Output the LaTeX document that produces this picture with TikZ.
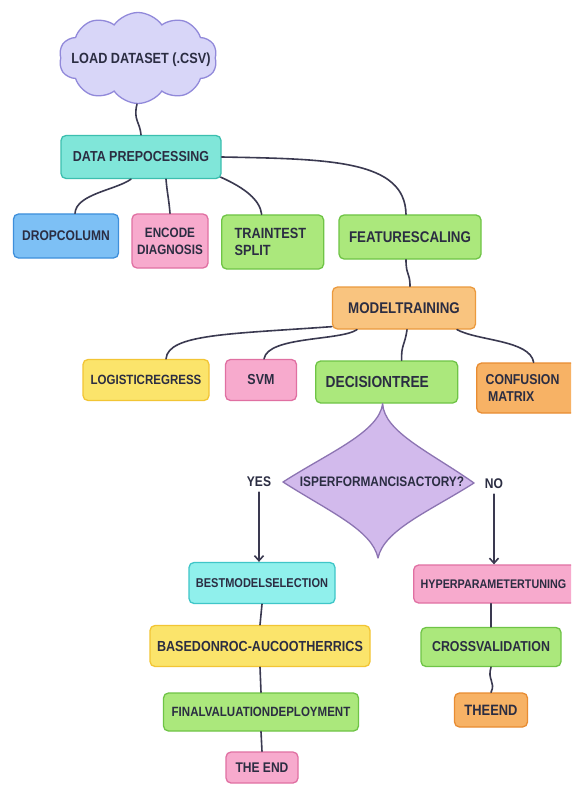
\documentclass[tikz,border=0pt]{standalone}
\usepackage{fontspec}
\newfontfamily\lab{Liberation Sans}[FakeStretch=0.86]
\usetikzlibrary{shapes.symbols,arrows.meta}
\definecolor{txt}{HTML}{2B2D42}
\definecolor{ln}{HTML}{3A3950}
\definecolor{tealF}{HTML}{80E6D9}\definecolor{tealD}{HTML}{3CBFAF}
\definecolor{blueF}{HTML}{7DC0F5}\definecolor{blueD}{HTML}{3E8FDB}
\definecolor{pinkF}{HTML}{F7AACD}\definecolor{pinkD}{HTML}{E070A2}
\definecolor{greenF}{HTML}{ABE87C}\definecolor{greenD}{HTML}{6FC446}
\definecolor{orF}{HTML}{F9C47F}\definecolor{orD}{HTML}{EB9A3E}
\definecolor{or2F}{HTML}{F7B265}\definecolor{or2D}{HTML}{E88C32}
\definecolor{yelF}{HTML}{FBE46B}\definecolor{yelD}{HTML}{F2C534}
\definecolor{cyanF}{HTML}{90F0EC}\definecolor{cyanD}{HTML}{3FC6C8}
\definecolor{lavF}{HTML}{D8D6F8}\definecolor{lavD}{HTML}{9189DA}
\definecolor{purF}{HTML}{D2BAEC}\definecolor{purD}{HTML}{8C74B2}
\tikzset{
  fsz/.style={font=\lab\bfseries\fontsize{#1}{17}\selectfont},
  box/.style={draw, rounded corners=5pt, line width=1.3pt, text=txt, inner sep=0pt, align=center, fsz=14.5},
  teal/.style={box, fill=tealF, draw=tealD},
  blue/.style={box, fill=blueF, draw=blueD},
  pink/.style={box, fill=pinkF, draw=pinkD},
  green/.style={box, fill=greenF, draw=greenD},
  orange/.style={box, fill=orF, draw=orD},
  orangeb/.style={box, fill=or2F, draw=or2D},
  yellow/.style={box, fill=yelF, draw=yelD},
  cyanbox/.style={box, fill=cyanF, draw=cyanD},
  conn/.style={draw=ln, line width=1.6pt, line cap=round},
  arr/.style={conn, -{Straight Barb[length=5pt,width=9pt,line width=1.6pt]}},
  lbl/.style={text=txt, fsz=14, inner sep=0pt}
}
\begin{document}
\begin{tikzpicture}[x=1pt,y=-1pt]
\clip (0,0) rectangle (571,786);
\fill[white] (0,0) rectangle (571,786);

% nodes
\node[cloud, cloud puffs=10, cloud puff arc=110, cloud ignores aspect, draw=lavD, fill=lavF, line width=1.3pt,
      minimum width=158pt, minimum height=91pt, inner sep=0pt] (cloud) at (138,58) {};
\node[text=txt, fsz=14.75, inner sep=0pt] (cloudtxt) at (141,60) {LOAD DATASET (.CSV)};
\node[teal, minimum width=160pt, minimum height=43pt] (dp) at (141,157) {DATA PREPOCESSING};
\node[blue, minimum width=105pt, minimum height=44pt, fsz=14] (drop) at (66,236) {DROPCOLUMN};
\node[pink, minimum width=76pt, minimum height=54pt, fsz=13.6] (enc) at (170,241) {ENCODE\\DIAGNOSIS};
\node[green, anchor=west, text width=76pt, inner xsep=13pt, minimum height=54pt, align=left, fsz=14.8] (tts) at (221,242) {TRAINTEST\\SPLIT};
\node[green, minimum width=142pt, minimum height=44pt, fsz=15.5] (fs) at (410,237) {FEATURESCALING};
\node[orange, minimum width=143pt, minimum height=42pt, fsz=15.5] (mt) at (404,308) {MODELTRAINING};
\node[yellow, minimum width=126pt, minimum height=41pt, fsz=13.4] (lr) at (146,380) {LOGISTICREGRESS};
\node[pink, minimum width=71pt, minimum height=41pt] (svm) at (261,380) {SVM};
\node[green, anchor=west, text width=122pt, inner xsep=10pt, minimum height=42pt, align=left, fsz=16] (dt) at (315,382) {DECISIONTREE};
\node[orangeb, anchor=west, text width=88pt, inner xsep=9pt, minimum height=50pt, align=left, fsz=14.3] (cm) at (476,388) {CONFUSION\\\,MATRIX};

% decision diamond
\coordinate (dtop) at ([xshift=-4pt]dt.south);
\filldraw[fill=purF, draw=purD, line width=1.3pt, line join=round]
  (dtop) .. controls (379,432) and (330,452) .. (283,482)
  .. controls (330,512) and (372,530) .. (378,558)
  .. controls (384,530) and (428,512) .. (474,483)
  .. controls (430,452) and (384,432) .. (dtop) -- cycle;
\node[lbl, fsz=13.8] (q) at (382,482) {ISPERFORMANCISACTORY?};
\node[lbl] (yes) at (259,482) {YES};
\node[lbl] (no) at (494,484) {NO};

\node[cyanbox, minimum width=146pt, minimum height=41pt, fsz=12.8] (bm) at (262,583) {BESTMODELSELECTION};
\node[yellow, minimum width=220pt, minimum height=41pt, fsz=14.6] (roc) at (260,646) {BASEDONROC-AUCOOTHERRICS};
\node[green, minimum width=195pt, minimum height=38pt, fsz=13.4] (fin) at (261,712) {FINALVALUATIONDEPLOYMENT};
\node[pink, minimum width=72pt, minimum height=31pt, fsz=14] (end1) at (262,767.5) {THE END};

\node[pink, anchor=west, text width=150pt, inner xsep=7pt, minimum height=38pt, align=left, fsz=12.5] (hyp) at (413,584) {HYPERPARAMETERTUNING};
\node[green, minimum width=140pt, minimum height=39pt, fsz=14.4] (cv) at (491,647) {CROSSVALIDATION};
\node[orangeb, minimum width=73pt, minimum height=34pt, fsz=15] (end2) at (491,710) {THEEND};

% connectors
\draw[conn] ([xshift=-1pt]cloud.south) .. controls (133,120) and (140,122) .. (dp.north);
\draw[conn] ([xshift=-10pt]dp.south) .. controls (116,190) and (76,194) .. ([xshift=9pt]drop.north);
\draw[conn] ([xshift=25pt]dp.south) .. controls (167,192) and (169,200) .. (enc.north);
\draw[conn] ([xshift=-1pt,yshift=2pt]dp.south east) .. controls (245,188) and (260,200) .. ([xshift=-11pt]tts.north);
\draw[conn] (dp.east) .. controls (330,159) and (405,160) .. ([xshift=-4pt]fs.north);
\draw[conn] ([xshift=-4pt]fs.south) .. controls (406,276) and (410,272) .. ([xshift=6pt]mt.north);
\draw[conn] ([yshift=3pt]mt.south west) .. controls (230,334) and (168,334) .. ([xshift=20pt]lr.north);
\draw[conn] ([xshift=-47pt]mt.south) .. controls (340,341) and (268,336) .. ([xshift=3pt]svm.north);
\draw[conn] ([xshift=3pt]mt.south) .. controls (405,345) and (401,345) .. ([xshift=15pt]dt.north);
\draw[conn] ([xshift=53pt]mt.south) .. controls (478,341) and (530,340) .. ([xshift=4pt]cm.north);

\draw[arr] ([yshift=-5pt]yes.south) -- (yes.south |- bm.north);
\draw[arr] ([yshift=-5pt]no.south) -- (no.south |- hyp.north);
\draw[conn] (bm.south) -- (roc.north);
\draw[conn] (roc.south) -- (fin.north);
\draw[conn] (fin.south) -- (end1.north);
\draw[conn] (cv.north |- hyp.south) -- (cv.north);
\draw[conn] (cv.south) .. controls (487,680) and (496,682) .. (end2.north);
\end{tikzpicture}
\end{document}
